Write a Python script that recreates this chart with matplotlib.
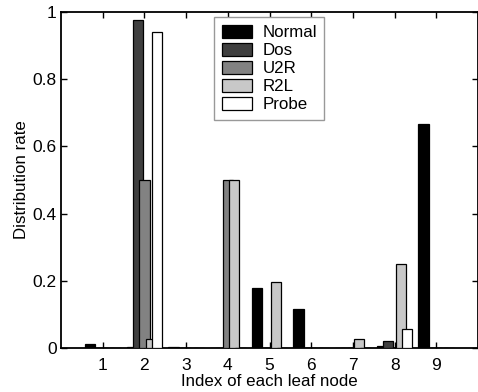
import matplotlib
matplotlib.use("Agg")
import matplotlib.pyplot as plt
import numpy as np

plt.rcParams['font.family'] = ['Liberation Sans', 'DejaVu Sans']

leaf_nodes = [1, 2, 3, 4, 5, 6, 7, 8, 9]
series_names = ["Normal", "Dos", "U2R", "R2L", "Probe"]
normal = [0.012, 0.003, 0.003, 0.0, 0.18, 0.115, 0.0, 0.005, 0.667]
dos    = [0.0, 0.976, 0.0, 0.0, 0.0, 0.0, 0.0, 0.022, 0.0]
u2r    = [0.0, 0.5, 0.0, 0.5, 0.0, 0.0, 0.0, 0.0, 0.0]
r2l    = [0.0, 0.027, 0.0, 0.5, 0.195, 0.0, 0.027, 0.25, 0.0]
probe  = [0.0, 0.941, 0.0, 0.0, 0.0, 0.0, 0.0, 0.058, 0.0]
series_values = [normal, dos, u2r, r2l, probe]
colors = ["#000000", "#3f3f3f", "#828282", "#c8c8c8", "#ffffff"]
y_ticks = [0, 0.2, 0.4, 0.6, 0.8, 1.0]
y_tick_labels = ["0", "0.2", "0.4", "0.6", "0.8", "1"]

W, H = 478, 392
fig = plt.figure(figsize=(W / 100, H / 100), dpi=100)
ax = fig.add_axes([61 / W, 44 / H, 417 / W, 336 / H])

x = np.array(leaf_nodes, dtype=float)
step = 0.152
width = 0.25
for i, (name, vals, c) in enumerate(zip(series_names, series_values, colors)):
    ax.bar(x + (i - 2) * step, vals, width=width, color=c, edgecolor="black",
           linewidth=0.9, label=name, zorder=2 + i)

ax.set_xlim(0, 10)
ax.set_ylim(0, 1)
ax.set_xticks(leaf_nodes)
ax.set_xticklabels([str(v) for v in leaf_nodes])
ax.set_yticks(y_ticks)
ax.set_yticklabels(y_tick_labels)
ax.tick_params(direction="in", length=4, width=1, top=True, right=True,
               labelsize=12.5, colors="black")
ax.tick_params(axis="x", pad=7)
ax.tick_params(axis="y", pad=3)
for s in ax.spines.values():
    s.set_linewidth(1.3)

ax.set_xlabel("Index of each leaf node", fontsize=12.2, labelpad=1)
ax.set_ylabel("Distribution rate", fontsize=12.2, labelpad=3)

leg = ax.legend(loc="upper left", bbox_to_anchor=(214 / W, 1 - 17 / H),
                bbox_transform=fig.transFigure, borderaxespad=0,
                fontsize=12.2, handlelength=1.8, handleheight=0.85,
                labelspacing=0.14, handletextpad=0.6, borderpad=0.45,
                fancybox=False, framealpha=1)
leg.get_frame().set_edgecolor("0.6")
leg.get_frame().set_linewidth(1.0)
leg.set_zorder(20)

fig.savefig("out.png", dpi=100, facecolor="white")
